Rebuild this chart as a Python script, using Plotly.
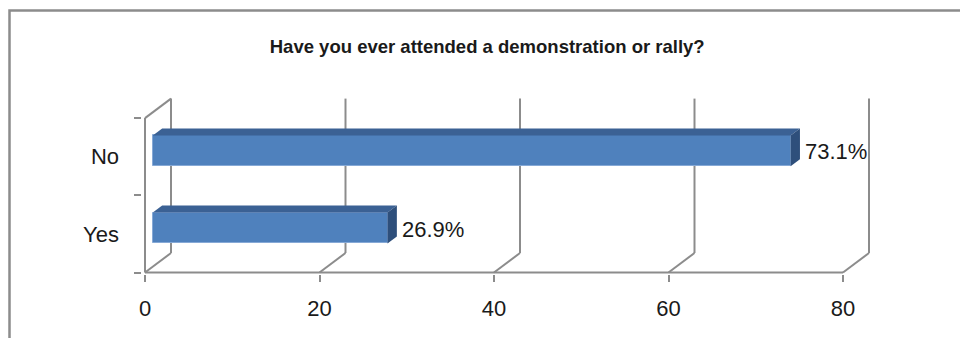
import plotly.graph_objects as go

# ---- data -------------------------------------------------------------
categories = ["Yes", "No"]
values = [26.9, 73.1]
x_ticks = [0, 20, 40, 60, 80]
title_text = "Have you ever attended a demonstration or rally?"

# ---- page geometry (pixels) ------------------------------------------
W, H = 960, 338
M_L, M_R, M_T, M_B = 142, 75, 80, 64
PLOT_W = W - M_L - M_R
PLOT_H = H - M_T - M_B

PX_PER_X = 8.725          # pixels per value unit
PX_PER_CAT = 77.2         # pixels per category band
ZERO_PX = 145             # pixel column of value 0 on the front plane
FLOOR_PX = 272.5          # pixel row of the front floor edge

x_min = (M_L - ZERO_PX) / PX_PER_X
x_max = x_min + PLOT_W / PX_PER_X
y_min = -0.5 - (H - M_B - FLOOR_PX) / PX_PER_CAT
y_max = -0.5 + (FLOOR_PX - M_T) / PX_PER_CAT

# oblique depth offset of the back wall, in axis units
DEPTH_X = 26 / PX_PER_X
DEPTH_Y = 19.5 / PX_PER_CAT
BAR_FRONT = 0.30   # depth fraction of the bar front face
BAR_BACK = 0.66    # depth fraction of the bar back face
BAR_W = 0.40

FRONT = "#4f81bd"
TOP = "#3b6194"
SIDE = "#2e4f7b"
EDGE = "#86a9d6"
GRID = "#8c8c8c"
TEXT = "#1a1a1a"
FONT = "Liberation Sans"

n = len(categories)
pos = list(range(n))
front_dx = BAR_FRONT * DEPTH_X
front_dy = BAR_FRONT * DEPTH_Y
face_dx = (BAR_BACK - BAR_FRONT) * DEPTH_X
face_dy = (BAR_BACK - BAR_FRONT) * DEPTH_Y
bar_y = [p + front_dy for p in pos]

fig = go.Figure(
    go.Bar(
        y=bar_y,
        x=values,
        base=front_dx,
        orientation="h",
        width=BAR_W,
        marker=dict(color=FRONT, line=dict(color=EDGE, width=1)),
        hoverinfo="skip",
    )
)

shapes = []


def seg(x0, y0, x1, y1, layer="below"):
    shapes.append(dict(type="line", xref="x", yref="y", x0=x0, y0=y0, x1=x1, y1=y1,
                       line=dict(color=GRID, width=2), layer=layer))


lo, hi = -0.5, n - 0.5
# back wall gridlines and floor diagonals
for t in x_ticks:
    seg(t + DEPTH_X, lo + DEPTH_Y, t + DEPTH_X, hi + DEPTH_Y)
    seg(t, lo, t + DEPTH_X, lo + DEPTH_Y)
# front floor edge
seg(x_ticks[0], lo, x_ticks[-1], lo)
# left wall edges
seg(0, lo, 0, hi)
seg(0, hi, DEPTH_X, hi + DEPTH_Y)

# bar top and side faces
for yc, v in zip(bar_y, values):
    x0 = front_dx
    x1 = front_dx + v
    yt = yc + BAR_W / 2
    yb = yc - BAR_W / 2
    top = (f"M {x0} {yt} L {x0 + face_dx} {yt + face_dy} "
           f"L {x1 + face_dx} {yt + face_dy} L {x1} {yt} Z")
    side = (f"M {x1} {yb} L {x1} {yt} L {x1 + face_dx} {yt + face_dy} "
            f"L {x1 + face_dx} {yb + face_dy} Z")
    shapes.append(dict(type="path", xref="x", yref="y", path=top,
                       fillcolor=TOP, line=dict(width=0), layer="above"))
    shapes.append(dict(type="path", xref="x", yref="y", path=side,
                       fillcolor=SIDE, line=dict(width=0), layer="above"))

# outer chart frame (runs off the right and bottom of the page)
def px_to_paper_x(px):
    return (px - M_L) / PLOT_W


def px_to_paper_y(py):
    return (H - M_B - py) / PLOT_H


shapes.append(dict(type="rect", xref="paper", yref="paper",
                   x0=px_to_paper_x(9.5), y0=px_to_paper_y(H + 20),
                   x1=px_to_paper_x(W + 20), y1=px_to_paper_y(10.5),
                   line=dict(color=GRID, width=2.5), fillcolor="rgba(0,0,0,0)",
                   layer="above"))

# value labels beside each bar
annotations = []
for yc, v in zip(bar_y, values):
    annotations.append(dict(
        x=front_dx + v + face_dx, y=yc, xref="x", yref="y",
        text=f"{v:.1f}%", showarrow=False, xanchor="left", yanchor="middle",
        xshift=3, yshift=-1, font=dict(family=FONT, size=22, color=TEXT),
    ))

fig.update_layout(
    width=W, height=H,
    margin=dict(l=M_L, r=M_R, t=M_T, b=M_B, pad=0),
    paper_bgcolor="white", plot_bgcolor="white",
    showlegend=False,
    bargap=0,
    title=dict(text=title_text, x=0.5075, xanchor="center", y=1 - 47 / H,
               yanchor="middle", yref="container",
               font=dict(family=FONT, size=18.5, color=TEXT, weight="bold")),
    xaxis=dict(range=[x_min, x_max], tickvals=x_ticks, ticks="outside", ticklen=7,
               tickwidth=2, tickcolor=GRID, showgrid=False, zeroline=False,
               showline=False, tickfont=dict(family=FONT, size=22, color=TEXT),
               ticklabelstandoff=8, fixedrange=True),
    yaxis=dict(range=[y_min, y_max], tickvals=pos, ticktext=categories, ticks="",
               showgrid=False, zeroline=False, showline=False,
               tickfont=dict(family=FONT, size=22, color=TEXT),
               ticklabelstandoff=22,
               minor=dict(tickvals=[p - 0.5 for p in pos] + [n - 0.5], ticks="outside",
                          ticklen=7, tickwidth=2, tickcolor=GRID, showgrid=False),
               fixedrange=True),
    shapes=shapes,
    annotations=annotations,
)

fig.write_html("out.html")
